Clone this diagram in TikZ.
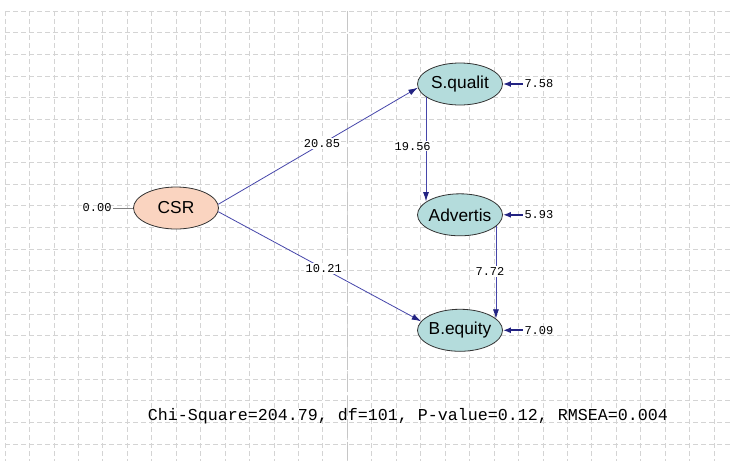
\documentclass[tikz,border=0pt]{standalone}
\usepackage{fontspec}
\setmainfont{Liberation Sans}
\newfontfamily\numfont{Liberation Mono}
\usepackage{xcolor}
\usepackage{tikz}
\usetikzlibrary{shapes,arrows.meta,positioning,calc}
\definecolor{csrpeach}{RGB}{250,212,192}
\definecolor{lvteal}{RGB}{180,220,220}
\definecolor{pathblue}{RGB}{70,70,170}
\definecolor{tipnavy}{RGB}{35,35,130}
\definecolor{gridgray}{RGB}{212,212,212}

\begin{document}
\begin{tikzpicture}[
    x=0.75pt, y=-0.75pt,
    node distance=15pt,
    gridline/.style={gridgray, line width=0.6pt, dash pattern=on 3.5pt off 2.5pt},
    midline/.style={gray!45, line width=0.9pt, dash pattern=on 14pt off 3pt},
    latent/.style={ellipse, draw=black!80, line width=0.6pt, fill=lvteal, minimum width=63.75pt, minimum height=31.5pt, inner xsep=-1.5pt, inner ysep=0pt, font=\fontsize{13}{15}\selectfont},
    estim/.style={font=\numfont\fontsize{9}{10}\selectfont, inner sep=1pt, text=black},
    coef/.style={estim, fill=white},
    pathline/.style={pathblue, line width=0.6pt, -{Latex[length=7pt,width=4.5pt,color=tipnavy]}},
    errline/.style={tipnavy, line width=1.6pt, -{Latex[length=6pt,width=4.5pt]}}
]
\useasboundingbox (0,0) rectangle (730,461);
\fill[white] (0,0) rectangle (730,461);
\foreach \k in {0,...,29} \draw[gridline] (5+24.45*\k,11) -- (5+24.45*\k,461);
\foreach \k in {0,...,20} \draw[gridline] (5,11+21.65*\k) -- (730,11+21.65*\k);
\draw[midline] (347.5,11) -- (347.5,461);

\node[latent, fill=csrpeach] (csr) at (176,208) {CSR};
\node[latent] (sq) at (460,84) {S.qualit};
\node[latent, below=66pt of sq] (adv) {Advertis};
\node[latent, below=54.5pt of adv] (beq) {B.equity};

\node[estim, left=15pt of csr] (e0) {0.00};
\node[estim, right=15pt of sq] (e1) {7.58};
\node[estim, right=15pt of adv] (e2) {5.93};
\node[estim, right=15pt of beq] (e3) {7.09};

\draw[gray, line width=0.6pt] (e0.east) -- (csr.west);
\draw[errline] (e1.west) -- (sq.east);
\draw[errline] (e2.west) -- (adv.east);
\draw[errline] (e3.west) -- (beq.east);

\draw[pathline] (csr.5) -- node[coef, pos=0.52] {20.85} (sq.185);
\draw[pathline] (csr.-5) -- node[coef, pos=0.52] {10.21} (beq.167);
\draw[pathline] (sq.201) -- node[coef, pos=0.47, xshift=-10pt] {19.56} (sq.201 |- adv.158);
\draw[pathline] (adv.-18) -- node[coef, pos=0.49, xshift=-4.5pt] {7.72} (adv.-18 |- beq.18);

\node[font=\numfont\fontsize{12.5}{14}\selectfont] (fit) at (408,416) {Chi-Square=204.79, df=101, P-value=0.12, RMSEA=0.004};
\end{tikzpicture}
\end{document}
